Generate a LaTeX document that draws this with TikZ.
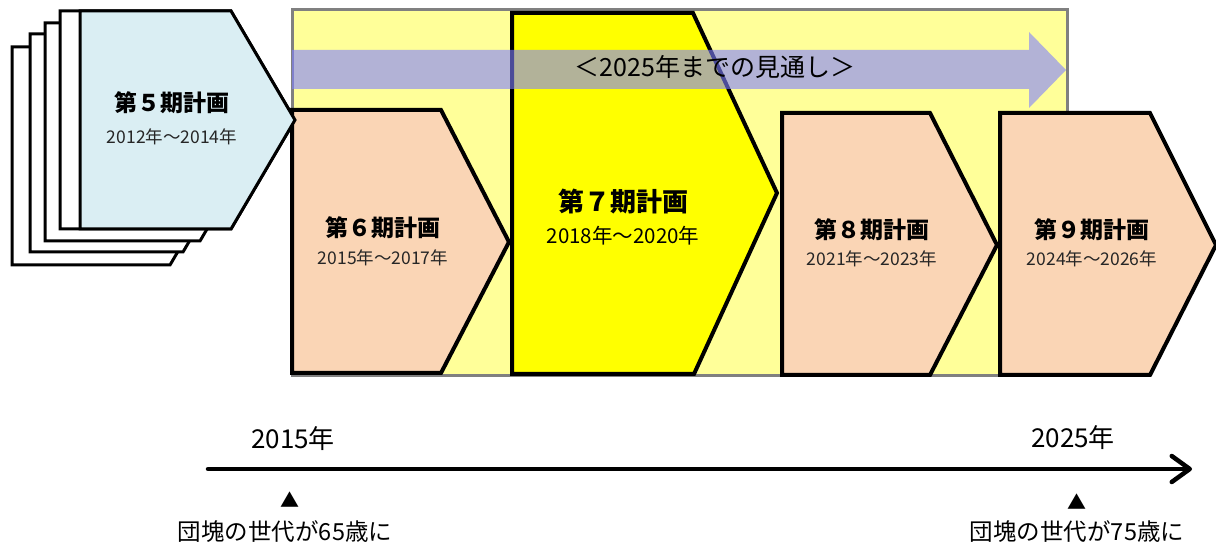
\documentclass[tikz,border=0pt]{standalone}
\usepackage{fontspec}
\setmainfont{Noto Sans CJK JP}
\usepackage{tikz}
\usetikzlibrary{arrows.meta,positioning}
\definecolor{peach}{RGB}{250,213,181}
\definecolor{paleyellow}{RGB}{255,255,153}
\definecolor{paleblue}{RGB}{218,238,243}
\definecolor{pureyellow}{RGB}{255,255,0}
\definecolor{lavender}{RGB}{128,128,255}
\definecolor{outlinegray}{RGB}{128,128,128}
\tikzset{
    plan/.style={draw=black, line width=4pt, line join=miter},
    page/.style={draw=black, line width=3pt, fill=white},
    title/.style={font=\bfseries\fontsize{23}{27}\selectfont, inner sep=0pt},
    bigtitle/.style={font=\bfseries\fontsize{26}{30}\selectfont, inner sep=0pt},
    span/.style={font=\fontsize{17.5}{20}\selectfont, text=black!85, inner sep=0pt},
    bigspan/.style={font=\fontsize{20.5}{24}\selectfont, inner sep=0pt},
    era/.style={font=\fontsize{26}{30}\selectfont, inner sep=0pt},
    note/.style={font=\fontsize{23.5}{27}\selectfont, inner sep=0pt},
    pointer/.style={font=\fontsize{19}{21}\selectfont, inner sep=0pt},
    outlook/.style={font=\fontsize{25}{29}\selectfont, inner sep=0pt},
    timeline/.style={draw, line width=4.5pt, line cap=round, -{Straight Barb[length=18pt, width=26pt, round]}}
}
\begin{document}
\begin{tikzpicture}[x=1pt, y=-1pt]
    \useasboundingbox (0,0) rectangle (1216,545);
    \draw [draw=outlinegray, line width=3pt, fill=paleyellow] (292,10) rectangle (1067,376);

    \foreach \lx/\ty/\cx in {12/47/170, 30/34/183, 45/23/200}
        \draw [page] (\lx,\ty) -- (\cx,\ty) -- ({\cx+64},{\ty+109}) -- (\cx,{\ty+218}) -- (\lx,{\ty+218}) -- cycle;
    \draw [page] (60,11) -- (231,11) -- (295,120) -- (231,229) -- (60,229) -- cycle;

    \draw [plan, fill=peach] (292,110) -- (441,110) -- (509,242) -- (441,373) -- (292,373) -- cycle;
    \draw [plan, fill=pureyellow] (512,13) -- (693,13) -- (777,193) -- (694,374) -- (512,374) -- cycle;
    \fill [lavender, fill opacity=0.6] (292,50) -- (1029,50) -- (1029,32) -- (1066,70) -- (1029,108) -- (1029,89) -- (292,89) -- cycle;
    \draw [plan, fill=peach] (782,113) -- (930,113) -- (997,245) -- (930,375) -- (782,375) -- cycle;
    \draw [plan, fill=peach] (1000,113) -- (1150,113) -- (1216,245) -- (1150,375) -- (1000,375) -- cycle;
    \draw [plan, line width=3pt, fill=paleblue] (80,11) -- (231,11) -- (295,120) -- (231,229) -- (80,229) -- cycle;

    \node [outlook] (outlook) at (715,67) {＜2025年までの見通し＞};

    \node [title] (p5) at (172,103) {第５期計画};
    \node [span, below=14pt of p5] (s5) {2012年～2014年};
    \node [title] (p6) at (383,228) {第６期計画};
    \node [span, below=10pt of p6] (s6) {2015年～2017年};
    \node [bigtitle] (p7) at (623,202) {第７期計画};
    \node [bigspan, below=11pt of p7] (s7) {2018年～2020年};
    \node [title] (p8) at (872,230) {第８期計画};
    \node [span, below=9pt of p8] (s8) {2021年～2023年};
    \node [title] (p9) at (1092,230) {第９期計画};
    \node [span, below=9pt of p9] (s9) {2024年～2026年};

    \coordinate (tstart) at (208,469);
    \coordinate (tend) at (1192,469);
    \path [timeline] (tstart) -- (tend);

    \node [era] (y15) at (293,439) {2015年};
    \node [era] (y25) at (1073,438) {2025年};
    \node [pointer] (m65) at (290,500) {▲};
    \node [pointer] (m75) at (1077,502) {▲};
    \node [note] (n65) at (285,532) {団塊の世代が65歳に};
    \node [note] (n75) at (1077,532) {団塊の世代が75歳に};
\end{tikzpicture}
\end{document}
